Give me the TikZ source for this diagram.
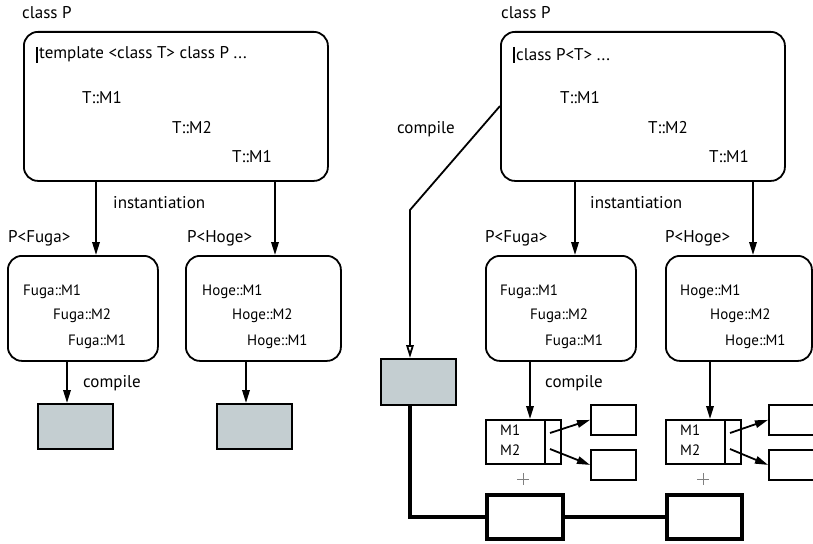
\documentclass[tikz,border=0pt]{standalone}
\usepackage{fontspec}
\setmainfont{PT Sans}
\usetikzlibrary{arrows.meta}
\definecolor{codegrey}{RGB}{196,206,209}
\tikzset{
  txt/.style={anchor=base west, inner sep=0pt, font=\fontsize{17}{20}\selectfont},
  smalltxt/.style={anchor=base west, inner sep=0pt, font=\fontsize{15}{18}\selectfont},
  rbox/.style={draw, line width=1.8pt, rounded corners=14pt, anchor=north west, inner sep=0pt},
  pbox/.style={draw, line width=1.8pt, anchor=north west, inner sep=0pt},
  objbox/.style={pbox, fill=codegrey},
  heavybox/.style={draw, line width=3.8pt, anchor=north west, inner sep=0pt},
  conn/.style={line width=1.8pt, -{Triangle[length=13pt,width=7.5pt]}},
  openconn/.style={line width=1.8pt, -{Triangle[open,length=13pt,width=7.5pt,fill=white]}},
  heavyline/.style={line width=3.8pt},
  cursor/.style={line width=1.2pt},
}
\begin{document}
\begin{tikzpicture}[x=1pt,y=-1pt]
\useasboundingbox (0,0) rectangle (813,543);
\clip (0,0) rectangle (813,543);

% ---------------- left: template instantiation ----------------
\node[txt] (clsL) at (22,19) {class P};
\node[rbox, minimum width=304pt, minimum height=149pt] (bigL) at (23,31) {};
\draw[cursor] (37,47) -- (37,63);
\node[txt] (tplL) at (39,59) {template <class T> class P ...};
\node[txt] (tm1L) at (82,103) {T::M1};
\node[txt] (tm2L) at (172,133) {T::M2};
\node[txt] (tm3L) at (232,162) {T::M1};

\node[txt] (instL) at (113,208) {instantiation};
\node[txt] (pfL) at (8,242) {P<Fuga>};
\node[txt] (phL) at (187,242) {P<Hoge>};

\node[rbox, minimum width=150pt, minimum height=105pt] (fugaL) at (7,255) {};
\node[rbox, minimum width=155pt, minimum height=105pt] (hogeL) at (185,255) {};
\node[smalltxt] (f1L) at (23,295) {Fuga::M1};
\node[smalltxt] (f2L) at (53,319) {Fuga::M2};
\node[smalltxt] (f3L) at (68,345) {Fuga::M1};
\node[smalltxt] (h1L) at (202,295) {Hoge::M1};
\node[smalltxt] (h2L) at (232,319) {Hoge::M2};
\node[smalltxt] (h3L) at (247,345) {Hoge::M1};

\coordinate (xa1) at (96,0);
\coordinate (xa2) at (275,0);
\draw[conn] (xa1 |- bigL.south) -- (xa1 |- fugaL.north);
\draw[conn] (xa2 |- bigL.south) -- (xa2 |- hogeL.north);

\node[txt] (cmpL) at (83,387) {compile};
\node[objbox, minimum width=75pt, minimum height=45pt] (objF) at (37,403) {};
\node[objbox, minimum width=75pt, minimum height=45pt] (objH) at (216,403) {};
\coordinate (xc1) at (67,0);
\coordinate (xc2) at (246,0);
\draw[conn] (xc1 |- fugaL.south) -- (xc1 |- objF.north);
\draw[conn] (xc2 |- hogeL.south) -- (xc2 |- objH.north);

% ---------------- right: generic class with a shared body ----------------
\node[txt] (clsR) at (501,19) {class P};
\node[rbox, minimum width=284pt, minimum height=149pt] (bigR) at (500,31) {};
\draw[cursor] (514,47) -- (514,63);
\node[txt] (tplR) at (516,60) {class P<T> ...};
\node[txt] (tm1R) at (560,103) {T::M1};
\node[txt] (tm2R) at (648,133) {T::M2};
\node[txt] (tm3R) at (709,162) {T::M1};

\node[txt] (cmpR) at (397,133) {compile};
\node[objbox, minimum width=75pt, minimum height=46pt] (objR) at (380,358) {};
\coordinate (bend) at (410,210);
\coordinate (leave) at (500,106);
\draw[openconn] (leave) -- (bend) -- (bend |- objR.north);

\node[txt] (instR) at (590,208) {instantiation};
\node[txt] (pfR) at (485,242) {P<Fuga>};
\node[txt] (phR) at (665,242) {P<Hoge>};

\node[rbox, minimum width=150pt, minimum height=105pt] (fugaR) at (485,255) {};
\node[rbox, minimum width=146pt, minimum height=105pt] (hogeR) at (665,255) {};
\node[smalltxt] (f1R) at (500,295) {Fuga::M1};
\node[smalltxt] (f2R) at (530,319) {Fuga::M2};
\node[smalltxt] (f3R) at (545,345) {Fuga::M1};
\node[smalltxt] (h1R) at (680,295) {Hoge::M1};
\node[smalltxt] (h2R) at (710,319) {Hoge::M2};
\node[smalltxt] (h3R) at (725,345) {Hoge::M1};

\coordinate (xa3) at (575,0);
\coordinate (xa4) at (753,0);
\draw[conn] (xa3 |- bigR.south) -- (xa3 |- fugaR.north);
\draw[conn] (xa4 |- bigR.south) -- (xa4 |- hogeR.north);

\node[txt] (cmpR2) at (545,387) {compile};

% method tables
\node[pbox, minimum width=75pt, minimum height=44pt] (vtF) at (485,419) {};
\node[pbox, minimum width=75pt, minimum height=44pt] (vtH) at (665,419) {};
\draw[line width=1.8pt] (545,419) -- (545,463);
\draw[line width=1.8pt] (725,419) -- (725,463);
\node[smalltxt] (vf1) at (500,435) {M1};
\node[smalltxt] (vf2) at (500,455) {M2};
\node[smalltxt] (vh1) at (680,435) {M1};
\node[smalltxt] (vh2) at (680,455) {M2};

\coordinate (xc3) at (530,0);
\coordinate (xc4) at (710,0);
\draw[conn] (xc3 |- fugaR.south) -- (xc3 |- vtF.north);
\draw[conn] (xc4 |- hogeR.south) -- (xc4 |- vtH.north);

% per-instance method bodies
\node[pbox, minimum width=45pt, minimum height=30pt] (mF1) at (590,404) {};
\node[pbox, minimum width=45pt, minimum height=30pt] (mF2) at (590,449) {};
\node[pbox, minimum width=52pt, minimum height=30pt] (mH1) at (768,404) {};
\node[pbox, minimum width=52pt, minimum height=30pt] (mH2) at (768,449) {};
\coordinate (pF1) at (550,433);
\coordinate (pF2) at (550,449);
\coordinate (pH1) at (730,433);
\coordinate (pH2) at (730,449);
\draw[conn] (pF1) -- (mF1.west);
\draw[conn] (pF2) -- (mF2.west);
\draw[conn] (pH1) -- (mH1.west);
\draw[conn] (pH2) -- (mH2.west);

% plus signs
\draw[gray, line width=0.8pt] (517,479) -- (529,479) (523,473) -- (523,485);
\draw[gray, line width=0.8pt] (697,479) -- (709,479) (703,473) -- (703,485);

% linked image
\node[heavybox, minimum width=76pt, minimum height=44pt] (lnk1) at (485,493) {};
\node[heavybox, minimum width=75pt, minimum height=44pt] (lnk2) at (665,493) {};
\coordinate (drop) at (410,0);
\draw[heavyline] (drop |- objR.south) |- (lnk1.west);
\draw[heavyline] (lnk1.east) -- (lnk2.west);
\end{tikzpicture}
\end{document}
